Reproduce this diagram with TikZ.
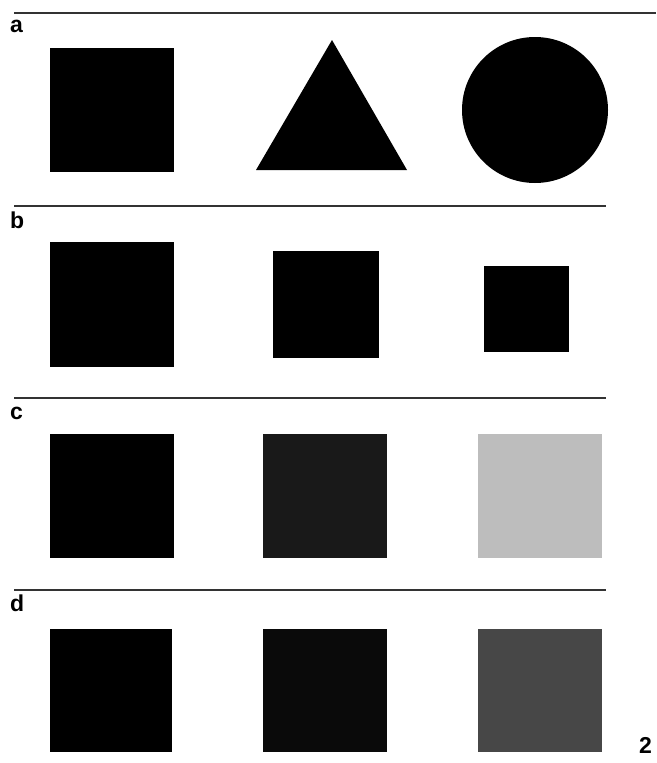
\documentclass[tikz,border=0pt]{standalone}
\usepackage{fontspec}
\setmainfont{Liberation Sans}
\begin{document}
\begin{tikzpicture}[x=1pt,y=-1pt,
  rule/.style={draw=black!80,line width=1.3pt},
  lbl/.style={anchor=base west,inner sep=0pt,font=\fontsize{23}{23}\selectfont\bfseries},
  blk/.style={fill=black}]
\useasboundingbox[fill=white] (0,0) rectangle (656,763);
% separators
\draw[rule] (14,13) -- (656,13);
\draw[rule] (14,206) -- (606,206);
\draw[rule] (14,398) -- (606,398);
\draw[rule] (14,590) -- (606,590);
% labels
\node[lbl] (la) at (10,32) {a};
\node[lbl] (lb) at (10,228) {b};
\node[lbl] (lc) at (10,419) {c};
\node[lbl] (ld) at (10,611) {d};
\node[lbl] (num) at (639,753) {2};
% row a
\fill[blk] (50,48) rectangle (174,172);
\fill[blk] (332,40) -- (407,170) -- (256,170) -- cycle;
\fill[blk] (535,110) circle[radius=73];
% row b
\fill[blk] (50,242) rectangle (174,367);
\fill[blk] (273,251) rectangle (379,358);
\fill[blk] (484,266) rectangle (569,352);
% row c
\fill[blk] (50,434) rectangle (174,558);
\fill[black!90] (263,434) rectangle (387,558);
\fill[black!26] (478,434) rectangle (602,558);
% row d
\fill[blk] (50,629) rectangle (172,752);
\fill[black!96] (263,629) rectangle (387,752);
\fill[black!72] (478,629) rectangle (602,752);
\end{tikzpicture}
\end{document}
